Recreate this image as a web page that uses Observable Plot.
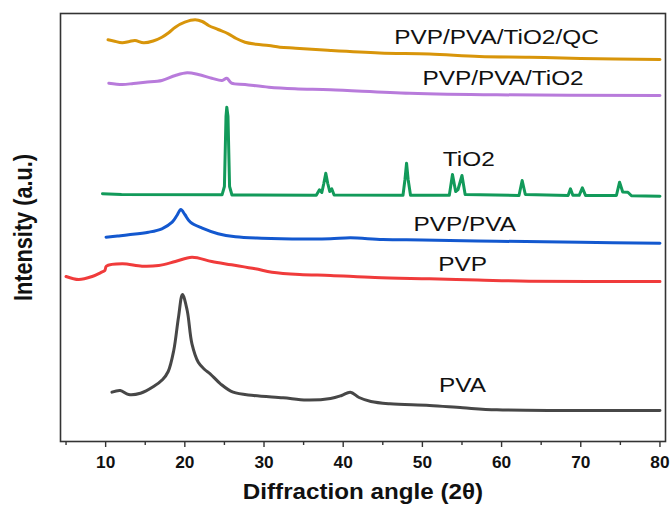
<!DOCTYPE html>
<html><head><meta charset="utf-8">
<script src="https://cdn.jsdelivr.net/npm/d3@7"></script>
<script src="https://cdn.jsdelivr.net/npm/@observablehq/plot@0.6"></script>
<style>
html,body{margin:0;padding:0;background:#fff;}
#chart{width:671px;height:508px;}
</style></head><body><div id="chart"></div>
<script>
// ---- Data (2θ in degrees, intensity in arbitrary units, already stacked) ----
const sampleNames = ["PVA", "PVP", "PVP/PVA", "TiO2", "PVP/PVA/TiO2", "PVP/PVA/TiO2/QC"];

const pva = [[10.8,49.3],[11.85,51],[12.9,47],[14.4,48.3],[16.05,55],[17.2,62],[17.9,70],[18.6,91],[19.2,124.3],[19.7,147],[20.3,131],[20.9,97.7],[21.7,79.3],[22.5,72],[23.2,67.7],[24.5,57.7],[26.1,49.3],[28.7,46],[32.4,43.7],[35.4,41.5],[38.4,43],[39.8,46],[40.9,49.3],[42.0,44],[43.5,40],[45.9,37.7],[50.9,36],[55.1,33.7],[59.4,31.7],[67.8,31],[80,31]];

const pvp = [[5.0,165],[6.6,162],[8.3,165],[9.5,169.3],[9.9,171],[10.1,175.3],[12.1,177.7],[14.6,175.3],[16.7,176],[18.8,180],[20.9,184.3],[23.4,180],[25.9,176.7],[28.9,172.7],[31.0,169.3],[34.5,167],[38.4,166],[44,164],[50.9,162.7],[57,161.5],[63.5,160.3],[80,160]];

const pvpPva = [[10.05,204.3],[11.5,205.5],[12.9,206.7],[15.4,209.3],[17.1,212.7],[18.4,219.3],[19.0,226],[19.5,232],[20.0,227],[20.7,219.3],[22.2,213.3],[24.2,207.7],[26.4,204.7],[29.7,203.3],[35,202.5],[38.4,202.7],[40.9,203.7],[45,202],[50,201.5],[59.4,200.3],[70,199.2],[80,198.3]];

const tio2 = [[9.6,247.7],[12,247],[24.7,246.7],[25.0,255],[25.2,325],[25.3,334.3],[25.45,325],[25.65,255],[25.95,246.5],[36.6,246.2],[37.0,251.7],[37.3,249],[37.55,258],[37.8,268.3],[38.05,258],[38.3,250],[38.55,252.7],[38.85,246.5],[47.55,246.3],[47.8,262],[48.0,278.3],[48.2,262],[48.5,246.3],[53.4,246.2],[53.8,267],[54.2,250],[54.5,252],[55.0,266],[55.4,247],[62.2,246],[62.6,261],[63.0,247],[68.4,246],[68.7,252.7],[69.0,246.3],[69.8,246.2],[70.2,253.7],[70.6,246.1],[74.5,246],[74.9,259.3],[75.3,249.5],[75.95,249.3],[76.4,245.7],[80,245.3]];

const pvpPvaTio2 = [[10.4,358.3],[12.1,357],[13.5,358],[15.0,359.3],[17.1,361],[18.8,366],[20.3,368.7],[21.7,367],[23.4,363.3],[24.7,361],[25.3,363.3],[25.9,358.3],[27.6,357],[30.6,354.3],[33.9,352.7],[38.4,351.7],[48.4,348.3],[59.4,346.7],[80,346]];

const pvpPvaTio2Qc = [[10.3,401.7],[11.0,400.5],[12.1,398.7],[13.0,400],[13.7,401],[14.8,398.7],[16.0,400.5],[17.1,404.3],[18.0,409],[18.8,414.3],[20.0,419.3],[21.3,421.7],[22.2,420],[23.0,416],[24.2,412],[25.5,407.7],[26.5,403],[27.6,399.3],[29.0,397.3],[30.6,396],[32.0,394.3],[34.0,393.3],[38.4,391],[44.6,388.5],[50.9,387.5],[57.2,385],[63.5,384.3],[70,383],[80,382]];

// label anchors (2θ, intensity)
const labelX = [55.07, 55.07, 55.36, 55.86, 60.19, 59.36];
const labelY = [56, 177.7, 217, 282.7, 363.7, 404.3];

const majorTicks = [10, 20, 30, 40, 50, 60, 70, 80];
const minorTicks = [5, 15, 25, 35, 45, 55, 65, 75];

const xTitle = "Diffraction angle (2θ)";
const yTitle = "Intensity (a.u.)";

// ---- Styles ----
const colors = ["#474747", "#F03B3B", "#1358CF", "#129A5A", "#B87BDB", "#D8950A"];
const seriesData = [pva, pvp, pvpPva, tio2, pvpPvaTio2, pvpPvaTio2Qc];
const curves = ["catmull-rom", "catmull-rom", "catmull-rom", "linear", "catmull-rom", "catmull-rom"];
const font = "'Liberation Sans', Arial, Helvetica, sans-serif";

const labels = sampleNames.map((name, i) => ({name, x: labelX[i], y: labelY[i]}));

const plot = Plot.plot({
  width: 671,
  height: 508,
  marginLeft: 60,
  marginRight: 6,
  marginTop: 13,
  marginBottom: 67,
  style: {fontFamily: font, background: "#fff", color: "#111", overflow: "visible"},
  x: {domain: [4.3, 80.7], label: null},
  y: {domain: [0, 428], axis: null, label: null},
  marks: [
    ...seriesData.map((d, i) => Plot.line(d, {
      x: p => p[0], y: p => p[1], stroke: colors[i], strokeWidth: 3, curve: curves[i]
    })),
    Plot.frame({stroke: "#333", strokeWidth: 1.6}),
    Plot.axisX({ticks: minorTicks, tickSize: 4, tickFormat: () => "", stroke: "#333", strokeWidth: 1.4, label: null}),
    Plot.axisX({ticks: majorTicks, tickSize: 6, tickPadding: 9, fontSize: 16, fontWeight: "bold",
      stroke: "#333", strokeWidth: 1.4, fill: "#111", label: null}),
    Plot.text(labels, {x: "x", y: "y", text: "name", fontSize: 21, fill: "#111", lineAnchor: "middle"}),
    Plot.text([xTitle], {frameAnchor: "bottom", dy: 57, lineAnchor: "bottom",
      fontSize: 22, fontWeight: "bold", fill: "#111"}),
    Plot.text([yTitle], {frameAnchor: "left", dx: -28.3, rotate: -90, lineAnchor: "bottom",
      textAnchor: "middle", fontSize: 21.7, fontWeight: "bold", fill: "#111"})
  ]
});

document.getElementById("chart").appendChild(plot);

// horizontal stretch of text, as in the reference picture
const stretch = new Map([
  ...sampleNames.map(n => [n, 1.16]),
  ...majorTicks.map(t => [String(t), 1.08]),
  [xTitle, 1.1]
]);
d3.select(plot).selectAll("text").each(function() {
  const s = stretch.get(this.textContent);
  if (s) {
    const len = this.getComputedTextLength();
    this.setAttribute("textLength", (len * s).toFixed(1));
    this.setAttribute("lengthAdjust", "spacingAndGlyphs");
  }
  if (this.textContent === yTitle) {
    const t = this.getAttribute("transform") || "";
    this.setAttribute("transform", (t + " scale(1,1.16)").trim());
  }
});
</script>
</body></html>
